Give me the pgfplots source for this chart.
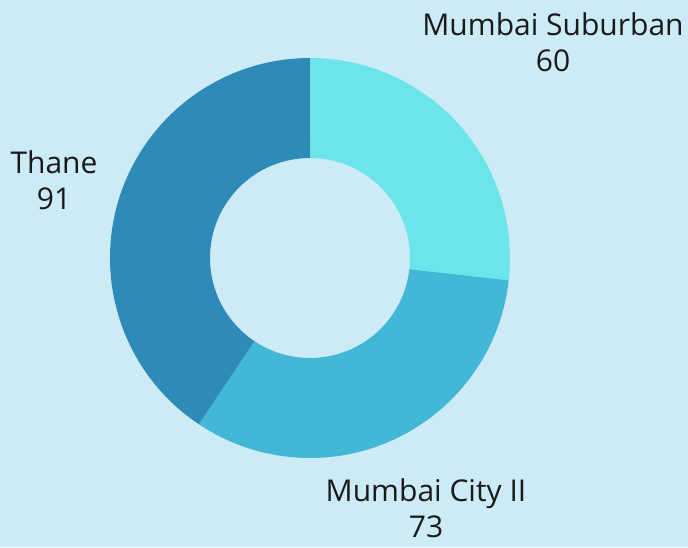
\documentclass[border=0pt]{standalone}
\usepackage{fontspec}
\setmainfont{Open Sans}
\usepackage{pgfplots}
\usepackage{pgfplotstable}
\pgfplotsset{compat=1.18}
\definecolor{bg}{HTML}{CCEBF7}
\definecolor{c0}{HTML}{6BE5E9}
\definecolor{c1}{HTML}{42B7D6}
\definecolor{c2}{HTML}{2E8BB8}
\definecolor{txt}{HTML}{1A1A1A}
\pgfplotstableread[col sep=comma]{
label,value,start
Mumbai Suburban,60,0
Mumbai City II,73,60
Thane,91,133
}\datatable
\begin{document}
\begin{tikzpicture}
\begin{axis}[
  x=100pt, y=100pt,
  xmin=-3.10, xmax=3.78, ymin=-2.89, ymax=2.58,
  scale only axis, hide axis, clip=false,
  xtick=\empty, ytick=\empty,
]
\pgfplotsextra{
  \fill[bg] (rel axis cs:0,0) rectangle (rel axis cs:1,1);
  \foreach \i in {0,1,2}{
    \pgfplotstablegetelem{\i}{value}\of\datatable
    \pgfmathsetmacro{\val}{\pgfplotsretval}
    \pgfplotstablegetelem{\i}{start}\of\datatable
    \pgfmathsetmacro{\st}{\pgfplotsretval}
    \pgfmathsetmacro{\aone}{90-360/224*\st}
    \pgfmathsetmacro{\atwo}{\aone-360/224*\val}
    \fill[c\i] (axis cs:{2*cos(\aone)},{2*sin(\aone)})
      arc[start angle=\aone, end angle=\atwo, radius=200pt]
      -- (axis cs:{cos(\atwo)},{sin(\atwo)})
      arc[start angle=\atwo, end angle=\aone, radius=100pt] -- cycle;
  }
}
\node[align=center, text=txt, font=\fontsize{30}{36}\selectfont] at (axis cs:2.43,2.16) {Mumbai Suburban\\60};
\node[align=center, text=txt, font=\fontsize{30}{36}\selectfont] at (axis cs:-2.56,0.78) {Thane\\91};
\node[align=center, text=txt, font=\fontsize{30}{36}\selectfont] at (axis cs:1.16,-2.50) {Mumbai City II\\73};
\end{axis}
\end{tikzpicture}
\end{document}
